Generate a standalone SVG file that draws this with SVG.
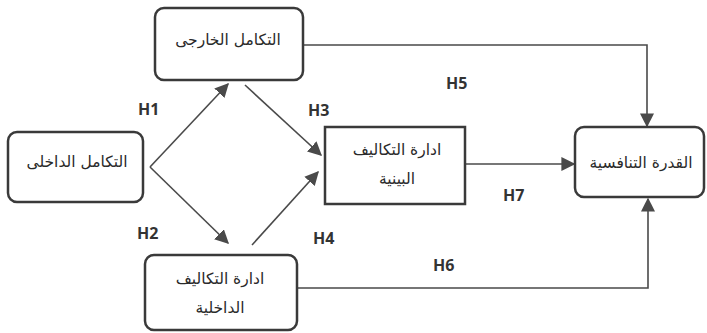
<svg xmlns="http://www.w3.org/2000/svg" width="707" height="333" viewBox="0 0 707 333">
<style>
.box{fill:#fff;stroke:#3a3a3a;stroke-width:2.5}
.t{font-family:"DejaVu Sans","Noto Sans",sans-serif;font-size:15.5px;fill:#2a2a2a;text-anchor:middle}
.h{font-family:"Open Sans","Liberation Sans",sans-serif;font-weight:bold;font-size:16px;fill:#333}
.c{fill:none;stroke:#4a4a4a;stroke-width:1.6}
</style>
<defs>
<marker id="ah2" viewBox="0 0 10 10" refX="9" refY="5" markerWidth="14" markerHeight="14" orient="auto" markerUnits="userSpaceOnUse">
<path d="M0,0 L10,5 L0,10 z" fill="#4a4a4a"/>
</marker>
</defs>
<rect width="707" height="333" fill="#fff"/>
<g id="connectors">
<path class="c" d="M150,167 L228,84" marker-end="url(#ah2)"/>
<path class="c" d="M150,167 L228,243" marker-end="url(#ah2)"/>
<path class="c" d="M245,85 L321,155" marker-end="url(#ah2)"/>
<path class="c" d="M252,245 L318,172" marker-end="url(#ah2)"/>
<path class="c" d="M465,164 L574,164" marker-end="url(#ah2)"/>
<path class="c" d="M303,45 L647,45 L647,126" marker-end="url(#ah2)"/>
<path class="c" d="M297,288 L648,288 L648,199" marker-end="url(#ah2)"/>
<text class="h" x="138" y="115">H1</text>
<text class="h" x="308" y="116">H3</text>
<text class="h" x="137" y="239">H2</text>
<text class="h" x="313" y="244">H4</text>
<text class="h" x="446" y="89">H5</text>
<text class="h" x="433" y="271">H6</text>
<text class="h" x="503" y="201">H7</text>
</g>
<g id="external">
<rect class="box" x="155" y="8" width="148" height="72" rx="9"/>
<text class="t" x="228" y="45">التكامل الخارجى</text>
</g>
<g id="internal">
<rect class="box" x="8" y="132" width="135" height="70" rx="9"/>
<text class="t" x="77" y="167">التكامل الداخلى</text>
</g>
<g id="interface">
<rect class="box" x="325" y="127" width="140" height="77"/>
<text class="t" x="397" y="155">ادارة التكاليف</text>
<text class="t" x="397" y="184">البينية</text>
</g>
<g id="competitive">
<rect class="box" x="575" y="127" width="129" height="70" rx="9"/>
<text class="t" x="641" y="168">القدرة التنافسية</text>
</g>
<g id="internalcosts">
<rect class="box" x="145" y="255" width="152" height="75" rx="9"/>
<text class="t" x="220" y="284">ادارة التكاليف</text>
<text class="t" x="220" y="313">الداخلية</text>
</g>
</svg>
